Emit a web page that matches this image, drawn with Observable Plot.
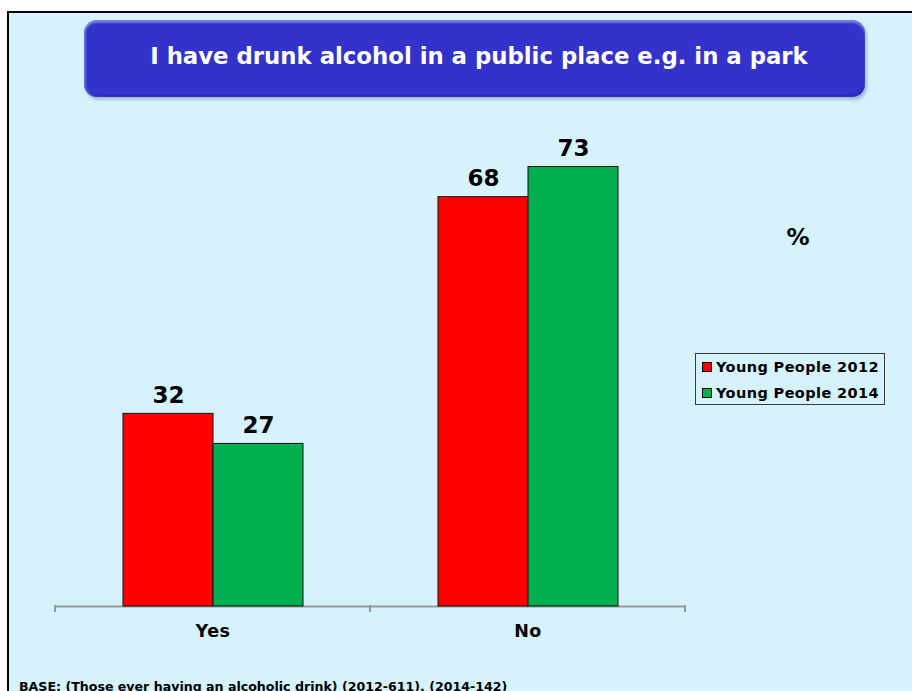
<!DOCTYPE html>
<html>
<head>
<meta charset="utf-8">
<script src="https://cdn.jsdelivr.net/npm/d3@7"></script>
<script src="https://cdn.jsdelivr.net/npm/@observablehq/plot@0.6"></script>
<style>
  html, body { margin: 0; padding: 0; background: #ffffff; }
  body { width: 912px; height: 691px; position: relative; overflow: hidden; font-family: "DejaVu Sans", Verdana, sans-serif; font-weight: bold; }
  #frame { position: absolute; left: 7px; top: 11px; width: 905px; height: 680px; background: #D5F2FD; border-left: 2px solid #000; border-top: 2px solid #000; }
  #titlebox { position: absolute; left: 84px; top: 20px; width: 781px; height: 77px; border-radius: 13px; background: #3333CC;
    box-shadow: inset 0 3px 2px rgba(170,170,255,0.55), inset 2px 0 2px rgba(200,200,255,0.35), inset 0 -2px 2px rgba(20,20,120,0.4), 2px 3px 3px rgba(80,80,140,0.35);
    color: #fff; font-size: 22.8px; display: flex; align-items: center; justify-content: center; box-sizing: border-box; padding-bottom: 6px; padding-left: 9px; white-space: nowrap; }
  #chart { position: absolute; left: 0; top: 0; }
  #legend { position: absolute; left: 695px; top: 353px; width: 190px; height: 52px; box-sizing: border-box; border: 1px solid #3a3a3a; font-size: 14.5px; letter-spacing: 0.4px; color: #000; }
  .row { position: absolute; left: 6px; height: 17px; display: flex; align-items: center; white-space: nowrap; }
  .sw { width: 8px; height: 8px; border: 1px solid #000; margin-right: 4px; }
  #pct { position: absolute; left: 798px; top: 237px; transform: translate(-50%, -50%); font-size: 23px; color: #000; }
  #caption { position: absolute; left: 19px; top: 680px; font-size: 12.6px; line-height: 14px; white-space: nowrap; color: #000; }
</style>
</head>
<body>
<div id="frame"></div>
<div id="titlebox"></div>
<div id="chart"></div>
<div id="pct"></div>
<div id="legend"></div>
<div id="caption"></div>
<script>
const titleText = "I have drunk alcohol in a public place e.g. in a park";
const captionText = "BASE: (Those ever having an alcoholic drink) (2012-611), (2014-142)";
const unitLabel = "%";
const categories = ["Yes", "No"];
const series = ["Young People 2012", "Young People 2014"];
const values2012 = [32, 68];
const values2014 = [27, 73];
const colors = ["#FF0000", "#00B050"];

const data = categories.flatMap((c, i) => [
  {category: c, series: series[0], value: values2012[i]},
  {category: c, series: series[1], value: values2014[i]}
]);

document.getElementById("titlebox").textContent = titleText;
document.getElementById("caption").textContent = captionText;
document.getElementById("pct").textContent = unitLabel;

const legend = document.getElementById("legend");
series.forEach((s, i) => {
  const row = document.createElement("div");
  row.className = "row";
  row.style.top = (4 + i * 26) + "px";
  const sw = document.createElement("div");
  sw.className = "sw";
  sw.style.background = colors[i];
  const t = document.createElement("span");
  t.textContent = s;
  row.appendChild(sw);
  row.appendChild(t);
  legend.appendChild(row);
});

const plot = Plot.plot({
  width: 912,
  height: 691,
  marginLeft: 55,
  marginRight: 227,
  marginTop: 124.4,
  marginBottom: 85,
  style: {background: "transparent", fontFamily: "DejaVu Sans, Verdana, sans-serif", fontWeight: "bold", color: "#000", overflow: "visible"},
  fx: {domain: categories, padding: 0, axis: null, label: null},
  x: {domain: series, paddingInner: 0, paddingOuter: 0.75, axis: null},
  y: {domain: [0, 80], axis: null},
  color: {domain: series, range: colors},
  marks: [
    Plot.ruleY([0], {stroke: "#999999", strokeWidth: 2}),
    Plot.barY(data, {fx: "category", x: "series", y: "value", fill: "series", stroke: "#111", strokeWidth: 1}),
    Plot.text(data, {fx: "category", x: "series", y: "value", text: d => String(d.value), lineAnchor: "bottom", dy: -11, fontSize: 23, fontWeight: "bold", fill: "#000"}),
    Plot.text(categories, {fx: d => d, text: d => d, frameAnchor: "bottom", lineAnchor: "middle", dy: 25, fontSize: 17.5, fontWeight: "bold", fill: "#000", style: "letter-spacing:0.5px"})
  ]
});
document.getElementById("chart").appendChild(plot);

// tick marks at the category band boundaries, placed from the fx scale
const fx = plot.scale("fx");
const ys = plot.scale("y");
const y0 = ys.apply ? ys.apply(0) : 606;
const band = d3.scaleBand().domain(fx.domain).range(fx.range).paddingInner(0).paddingOuter(0);
const edges = fx.domain.map(d => band(d)).concat([band(fx.domain[fx.domain.length - 1]) + band.bandwidth()]);
const svg = d3.select(plot.tagName.toLowerCase() === "svg" ? plot : plot.querySelector("svg"));
svg.selectAll("text").filter(function() { return categories.includes(this.textContent); }).attr("letter-spacing", "0.5px");
svg.append("g")
  .attr("stroke", "#999999")
  .attr("stroke-width", 2)
  .selectAll("line")
  .data(edges)
  .join("line")
  .attr("x1", d => d).attr("x2", d => d)
  .attr("y1", y0 - 1).attr("y2", y0 + 6);
</script>
</body>
</html>
